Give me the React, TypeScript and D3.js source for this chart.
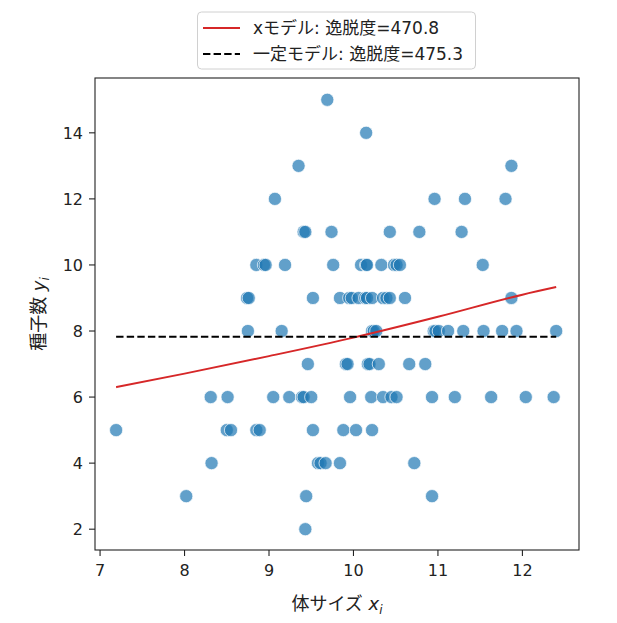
import * as d3 from "d3";

// seed data: body size x_i and seed count y_i (grouped by seed count)
const bodySize = [
  9.69,
  10.15,
  9.35, 11.87,
  9.07, 10.96, 11.32, 11.8,
  9.41, 9.43, 9.74, 10.43, 10.78, 11.28,
  8.85, 8.94, 8.96, 9.19, 9.76, 10.09, 10.15, 10.16, 10.33, 10.48, 10.51, 10.55, 11.53,
  8.74, 8.76, 9.52, 9.84, 9.95, 9.98, 10.06, 10.14, 10.16, 10.22, 10.35, 10.39, 10.43, 10.61, 11.87,
  8.75, 9.15, 10.22, 10.24, 10.27, 10.95, 10.97, 11.01, 11.12, 11.3, 11.54, 11.76, 11.93, 12.4,
  9.46, 9.91, 9.93, 10.17, 10.19, 10.3, 10.66, 10.85,
  8.31, 8.51, 9.05, 9.24, 9.39, 9.41, 9.5, 9.96, 10.21, 10.35, 10.45, 10.51, 10.93, 11.2, 11.63, 12.04, 12.37,
  7.19, 8.5, 8.55, 8.85, 8.89, 9.52, 9.88, 10.03, 10.22,
  8.32, 9.58, 9.61, 9.67, 9.84, 10.72,
  8.02, 9.44, 10.93,
  9.43,
];
const seedCount = [
  15,
  14,
  13, 13,
  12, 12, 12, 12,
  11, 11, 11, 11, 11, 11,
  10, 10, 10, 10, 10, 10, 10, 10, 10, 10, 10, 10, 10,
  9, 9, 9, 9, 9, 9, 9, 9, 9, 9, 9, 9, 9, 9, 9,
  8, 8, 8, 8, 8, 8, 8, 8, 8, 8, 8, 8, 8, 8,
  7, 7, 7, 7, 7, 7, 7, 7,
  6, 6, 6, 6, 6, 6, 6, 6, 6, 6, 6, 6, 6, 6, 6, 6, 6,
  5, 5, 5, 5, 5, 5, 5, 5, 5,
  4, 4, 4, 4, 4, 4,
  3, 3, 3,
  2,
];

// model predictions
const xModelX = [7.19, 8, 9, 10, 11, 12, 12.4];
const xModelY = [6.3, 6.71, 7.24, 7.8, 8.43, 9.1, 9.33];
const constX = [7.19, 12.4];
const constY = [7.83, 7.83];

const xTicks = [7, 8, 9, 10, 11, 12];
const yTicks = [2, 4, 6, 8, 10, 12, 14];
const legendLabels = ["xモデル: 逸脱度=470.8", "一定モデル: 逸脱度=475.3"];

const width = 617;
const height = 623;
const left = 95;
const right = 579;
const top = 78;
const bottom = 550;
const font = "'DejaVu Sans', 'Noto Sans CJK JP', sans-serif";
const tickFs = 16;
const legendFs = 17;

export default function App() {
  const x = d3.scaleLinear().domain([6.94, 12.67]).range([left, right]);
  const y = d3.scaleLinear().domain([1.37, 15.66]).range([bottom, top]);

  const redPath = d3
    .line<number>()
    .x((d) => x(d))
    .y((_, i) => y(xModelY[i]))
    .curve(d3.curveMonotoneX)(xModelX);
  const blackPath = d3
    .line<number>()
    .x((d) => x(d))
    .y((_, i) => y(constY[i]))(constX);

  const points = bodySize.map((b, i) => ({ b, s: seedCount[i] }));

  return (
    <svg
      width={width}
      height={height}
      style={{ position: "absolute", left: 0, top: 0, background: "#fff" }}
      fontFamily={font}
    >
      <rect x={0} y={0} width={width} height={height} fill="#fff" />

      {/* points */}
      <g>
        {points.map((p, i) => (
          <circle
            key={i}
            cx={x(p.b)}
            cy={y(p.s)}
            r={6.6}
            fill="#1f77b4"
            fillOpacity={0.7}
            stroke="#fff"
            strokeOpacity={0.7}
            strokeWidth={1}
          />
        ))}
      </g>

      {/* model lines */}
      <path d={redPath ?? ""} fill="none" stroke="#d62728" strokeWidth={2} />
      <path
        d={blackPath ?? ""}
        fill="none"
        stroke="#000"
        strokeWidth={2}
        strokeDasharray="7.4,3.2"
      />

      {/* frame */}
      <rect
        x={left}
        y={top}
        width={right - left}
        height={bottom - top}
        fill="none"
        stroke="#222"
        strokeWidth={1.1}
      />

      {/* x axis */}
      {xTicks.map((t) => (
        <g key={t} transform={`translate(${x(t)},${bottom})`}>
          <line y2={6} stroke="#222" strokeWidth={1.1} />
          <text y={26} textAnchor="middle" fontSize={tickFs} fill="#222">
            {t}
          </text>
        </g>
      ))}
      {/* y axis */}
      {yTicks.map((t) => (
        <g key={t} transform={`translate(${left},${y(t)})`}>
          <line x2={-6} stroke="#222" strokeWidth={1.1} />
          <text x={-12} dy="0.36em" textAnchor="end" fontSize={tickFs} fill="#222">
            {t}
          </text>
        </g>
      ))}

      {/* axis labels */}
      <text
        x={(left + right) / 2}
        y={610}
        textAnchor="middle"
        fontSize={18}
        fill="#222"
      >
        体サイズ{" "}
        <tspan fontStyle="italic">x</tspan>
        <tspan fontStyle="italic" fontSize={12} dy={4}>
          i
        </tspan>
      </text>
      <text
        transform={`translate(45,${(top + bottom) / 2}) rotate(-90)`}
        textAnchor="middle"
        fontSize={18}
        fill="#222"
      >
        種子数{" "}
        <tspan fontStyle="italic">y</tspan>
        <tspan fontStyle="italic" fontSize={12} dy={4}>
          i
        </tspan>
      </text>

      {/* legend */}
      <g>
        <rect
          x={197.5}
          y={12}
          width={278}
          height={57}
          rx={4}
          fill="#fff"
          fillOpacity={0.8}
          stroke="#d0d0d0"
        />
        {legendLabels.map((lab, i) => {
          const cy = 28 + i * 26;
          return (
            <g key={lab}>
              <line
                x1={203}
                x2={240}
                y1={cy}
                y2={cy}
                stroke={i === 0 ? "#d62728" : "#000"}
                strokeWidth={2}
                strokeDasharray={i === 0 ? undefined : "7.4,3.2"}
              />
              <text x={253} y={cy} dy="0.36em" fontSize={legendFs} fill="#222">
                {lab}
              </text>
            </g>
          );
        })}
      </g>
    </svg>
  );
}
